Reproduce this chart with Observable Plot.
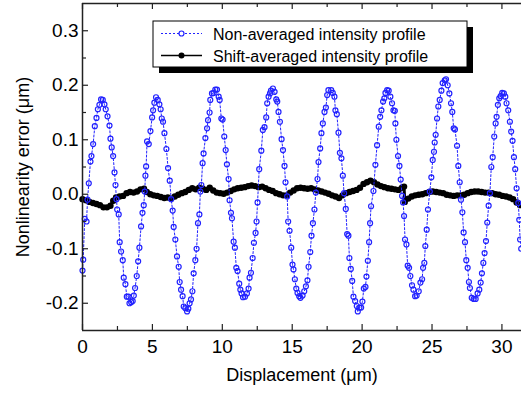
<!DOCTYPE html>
<html><head><meta charset="utf-8">
<script src="https://cdn.jsdelivr.net/npm/d3@7"></script>
<script src="https://cdn.jsdelivr.net/npm/@observablehq/plot@0.6"></script>
<style>
html,body{margin:0;padding:0;background:#fff;}
#chart svg{display:block;}
</style></head><body><div id="chart"></div>
<script>
// Non-averaged intensity profile: [displacement µm, error µm]
const blue = [
[0,-0.14],[0.05,-0.12],[0.16,-0.045],[0.29,-0.05],[0.36,-0.01],[0.45,0.02],[0.57,0.06],[0.64,0.07],[0.76,0.092],[0.88,0.125],[1.0,0.14],[1.1,0.156],[1.21,0.164],[1.33,0.174],[1.45,0.173],[1.57,0.165],[1.66,0.156],[1.79,0.143],[1.93,0.126],[2.0,0.102],[2.09,0.086],[2.19,0.07],[2.29,0.04],[2.36,0.017],[2.43,-0.009],[2.48,-0.028],[2.59,-0.037],[2.66,-0.088],[2.76,-0.105],[2.88,-0.121],[2.95,-0.153],[3.07,-0.165],[3.17,-0.188],[3.29,-0.188],[3.36,-0.2],[3.48,-0.198],[3.59,-0.196],[3.67,-0.186],[3.76,-0.172],[3.88,-0.15],[3.98,-0.123],[4.07,-0.098],[4.19,-0.059],[4.29,-0.034],[4.38,-0.02],[4.45,0.005],[4.5,0.034],[4.55,0.051],
[4.62,0.097],[4.74,0.092],[4.86,0.116],[4.98,0.141],[5.05,0.154],[5.14,0.168],[5.26,0.178],[5.38,0.173],[5.5,0.165],[5.59,0.156],[5.67,0.139],[5.76,0.133],[5.86,0.112],[6.0,0.083],[6.12,0.048],[6.24,0.025],[6.34,-0.009],[6.45,-0.03],[6.52,-0.06],[6.64,-0.083],[6.76,-0.114],[6.88,-0.133],[6.95,-0.161],[7.05,-0.175],[7.16,-0.187],[7.24,-0.206],[7.36,-0.209],[7.48,-0.215],[7.57,-0.21],[7.66,-0.2],[7.76,-0.193],[7.86,-0.178],[7.95,-0.145],[8.07,-0.121],[8.16,-0.1],[8.26,-0.053],[8.36,-0.037],[8.43,0.005],
[8.5,0.017],[8.59,0.057],[8.66,0.075],[8.79,0.103],[8.91,0.121],[8.98,0.136],[9.09,0.15],[9.14,0.173],[9.26,0.185],[9.38,0.186],[9.5,0.192],[9.62,0.192],[9.74,0.179],[9.81,0.173],[9.93,0.139],[10.02,0.137],[10.14,0.106],[10.24,0.081],[10.33,0.055],[10.45,0.028],[10.52,-0.011],[10.62,-0.034],[10.69,-0.044],[10.81,-0.087],[10.9,-0.098],[11.0,-0.135],[11.09,-0.141],[11.21,-0.164],[11.29,-0.175],[11.38,-0.182],[11.48,-0.189],[11.62,-0.188],[11.76,-0.182],[11.88,-0.173],[11.95,-0.153],[12.05,-0.144],[12.17,-0.117],[12.26,-0.089],[12.38,-0.071],[12.45,-0.05],[12.52,-0.015],
[12.64,0.046],[12.79,0.08],[12.9,0.118],[13.02,0.123],[13.14,0.141],[13.21,0.167],[13.31,0.179],[13.41,0.185],[13.48,0.19],[13.62,0.194],[13.74,0.188],[13.86,0.174],[13.93,0.17],[14.02,0.151],[14.12,0.133],[14.24,0.101],[14.34,0.081],[14.45,0.052],[14.52,0.022],[14.64,-0.004],[14.71,-0.05],[14.81,-0.067],[14.93,-0.098],[15.02,-0.129],[15.09,-0.138],[15.19,-0.156],[15.29,-0.173],[15.38,-0.181],[15.5,-0.187],[15.59,-0.19],[15.74,-0.186],[15.86,-0.178],[15.98,-0.169],[16.09,-0.158],[16.17,-0.133],[16.29,-0.106],[16.38,-0.076],[16.48,-0.053],[16.59,-0.028],[16.69,0.003],
[16.81,0.028],[16.88,0.059],[17.0,0.084],[17.09,0.112],[17.19,0.13],[17.31,0.151],[17.41,0.159],[17.5,0.182],[17.59,0.191],[17.79,0.191],[17.9,0.186],[18.02,0.179],[18.09,0.154],[18.19,0.147],[18.31,0.113],[18.41,0.076],[18.52,0.066],[18.62,0.034],[18.71,0.002],[18.83,-0.027],[18.93,-0.073],[19.02,-0.076],[19.09,-0.117],[19.19,-0.137],[19.29,-0.159],[19.38,-0.188],[19.5,-0.196],[19.62,-0.205],[19.69,-0.215],[19.81,-0.208],[19.93,-0.208],[20.02,-0.197],[20.12,-0.173],[20.24,-0.17],[20.31,-0.151],[20.41,-0.122],[20.5,-0.088],[20.57,-0.053],[20.64,-0.022],[20.81,0.006],
[20.95,0.054],[21.07,0.09],[21.19,0.124],[21.29,0.142],[21.38,0.154],[21.5,0.17],[21.59,0.176],[21.67,0.186],[21.79,0.191],[21.9,0.19],[22.02,0.179],[22.14,0.167],[22.24,0.154],[22.34,0.153],[22.38,0.13],[22.45,0.1],[22.57,0.07],[22.67,0.052],[22.76,0.027],[22.86,-0.003],[22.93,-0.015],[23.0,-0.04],[23.07,-0.083],[23.17,-0.092],[23.26,-0.131],[23.36,-0.135],[23.45,-0.15],[23.57,-0.167],[23.67,-0.175],[23.79,-0.187],[23.9,-0.186],[24.05,-0.178],[24.17,-0.162],[24.29,-0.156],[24.36,-0.135],[24.45,-0.126],[24.52,-0.095],[24.62,-0.065],[24.71,-0.028],[24.84,0.005],
[24.95,0.031],[25.05,0.063],[25.14,0.078],[25.19,0.095],[25.26,0.109],[25.36,0.139],[25.45,0.161],[25.55,0.173],[25.67,0.19],[25.76,0.204],[25.91,0.209],[26.0,0.211],[26.12,0.2],[26.24,0.185],[26.36,0.167],[26.45,0.151],[26.55,0.121],[26.64,0.119],[26.79,0.089],[26.88,0.052],[26.98,0.022],[27.07,-0.01],[27.17,-0.033],[27.26,-0.07],[27.36,-0.088],[27.45,-0.121],[27.55,-0.135],[27.64,-0.161],[27.71,-0.172],[27.84,-0.19],[27.98,-0.192],[28.12,-0.192],[28.26,-0.182],[28.38,-0.175],[28.48,-0.162],[28.57,-0.145],[28.67,-0.126],[28.76,-0.108],[28.86,-0.086],[28.95,-0.052],[29.05,-0.021],[29.14,0.002],
[29.24,0.05],[29.34,0.068],[29.45,0.106],[29.55,0.13],[29.62,0.142],[29.71,0.164],[29.81,0.176],[29.91,0.18],[30.02,0.186],[30.14,0.185],[30.24,0.179],[30.33,0.167],[30.45,0.154],[30.57,0.133],[30.66,0.115],[30.76,0.098],[30.86,0.068],[30.95,0.046],[31.05,0.011],[31.17,-0.016],[31.24,-0.047],[31.3,-0.083],[31.38,-0.1]
];
// Shift-averaged intensity profile: [displacement µm, error µm]
const black = [
[0,-0.009],[0.25,-0.011],[0.5,-0.014],[0.75,-0.016],[1.0,-0.018],[1.25,-0.02],[1.5,-0.024],[1.75,-0.024],[2.0,-0.021],[2.2,-0.012],[2.4,-0.006],[2.65,-0.004],[2.9,-0.003],[3.15,0.002],[3.4,0.004],[3.65,0.003],[3.9,0.005],[4.15,0.009],[4.4,0.01],[4.6,0.004],[4.85,0.0],[5.1,-0.002],[5.35,-0.003],[5.6,-0.005],[5.85,-0.007],[6.1,-0.006],[6.35,-0.008],[6.6,-0.004],[6.85,-0.001],[7.1,0.002],[7.35,0.004],[7.6,0.008],[7.85,0.011],[8.1,0.009],[8.35,0.012],[8.6,0.01],[8.85,0.008],[9.1,0.012],[9.35,0.007],[9.6,0.003],[9.85,0.002],[10.1,0.001],[10.35,0.003],[10.6,0.006],[10.85,0.009],[11.1,0.011],[11.35,0.012],[11.6,0.013],[11.85,0.015],[12.1,0.016],[12.35,0.015],[12.6,0.013],[12.85,0.014],[13.1,0.011],[13.35,0.008],[13.6,0.006],[13.85,0.002],[14.1,0.0],[14.35,-0.002],[14.6,-0.002],[14.85,0.003],[15.1,0.007],[15.35,0.011],[15.6,0.012],[15.85,0.011],[16.1,0.01],[16.35,0.011],[16.6,0.009],[16.85,0.007],[17.1,0.005],[17.35,0.003],[17.6,0.001],[17.85,-0.002],[18.1,-0.004],[18.35,-0.007],[18.6,-0.002],[18.85,0.002],[19.1,0.004],[19.35,0.006],[19.6,0.008],[19.85,0.012],[20.1,0.019],[20.35,0.022],[20.6,0.025],[20.85,0.022],[21.1,0.018],[21.35,0.015],[21.6,0.013],[21.85,0.011],[22.1,0.01],[22.35,0.009],[22.6,0.008],[22.85,0.012],[23.0,0.014],[23.05,-0.014],[23.3,-0.008],[23.55,-0.004],[23.8,-0.002],[24.05,-0.001],[24.3,0.0],[24.55,0.002],[24.8,0.004],[25.05,0.005],[25.3,0.004],[25.55,0.003],[25.8,0.002],[26.05,-0.001],[26.3,-0.002],[26.55,-0.003],[26.8,-0.002],[27.05,-0.002],[27.3,-0.001],[27.55,0.002],[27.8,0.004],[28.05,0.005],[28.3,0.005],[28.55,0.004],[28.8,0.003],[29.05,0.003],[29.3,0.002],[29.55,0.0],[29.8,-0.001],[30.05,-0.003],[30.3,-0.004],[30.55,-0.006],[30.8,-0.009],[31.05,-0.015],[31.3,-0.02]
];
const xTicks = [0,5,10,15,20,25,30];
const xTickLabels = ["0","5","10","15","20","25","30"];
const xMinorTicks = [2.5,7.5,12.5,17.5,22.5,27.5];
const yTicks = [-0.2,-0.1,0,0.1,0.2,0.3];
const yTickLabels = ["-0.2","-0.1","0.0","0.1","0.2","0.3"];
const yMinorTicks = [-0.15,-0.05,0.05,0.15,0.25];
const seriesNames = ["Non-averaged intensity profile","Shift-averaged intensity profile"];
const xTitle = "Displacement (\u03bcm)";
const yTitle = "Nonlinearity error (\u03bcm)";

const W = 521, H = 394, mL = 82, mR = 0, mT = 3, mB = 64;
const xDom = [0, 31.4], yDom = [-0.25, 0.35];
const pxX = (W - mL - mR) / (xDom[1] - xDom[0]);
const pxY = (H - mT - mB) / (yDom[1] - yDom[0]);
const font = '"Liberation Sans", Arial, Helvetica, sans-serif';
const BLUE = "#2222ff";
const AX = "#222";

const plot = Plot.plot({
  width: W, height: H, marginLeft: mL, marginRight: mR, marginTop: mT, marginBottom: mB,
  x: {domain: xDom, axis: null},
  y: {domain: yDom, axis: null},
  style: {fontFamily: font, background: "#fff", color: "#000"},
  marks: [
    Plot.line(black, {x: d => d[0], y: d => d[1], stroke: "#000", strokeWidth: 3}),
    Plot.dot(black, {x: d => d[0], y: d => d[1], r: 3.2, fill: "#000", stroke: "none"}),
    Plot.line(blue, {x: d => d[0], y: d => d[1], stroke: BLUE, strokeWidth: 1, strokeDasharray: "2,2"}),
    Plot.dot(blue, {x: d => d[0], y: d => d[1], r: 2.5, stroke: BLUE, strokeWidth: 1.2, fill: "none"}),
    // frame
    Plot.ruleX([xDom[0]], {stroke: AX, strokeWidth: 1.5}),
    Plot.ruleY([yDom[0], yDom[1]], {stroke: AX, strokeWidth: 1.5}),
    // inward ticks
    Plot.ruleX(xTicks, {x: d => d, y1: yDom[0], y2: yDom[0] + 6 / pxY, stroke: AX, strokeWidth: 1.2}),
    Plot.ruleX(xMinorTicks, {x: d => d, y1: yDom[0], y2: yDom[0] + 4 / pxY, stroke: AX, strokeWidth: 1.2}),
    Plot.ruleX(xTicks, {x: d => d, y1: yDom[1], y2: yDom[1] - 6 / pxY, stroke: AX, strokeWidth: 1.2}),
    Plot.ruleX(xMinorTicks, {x: d => d, y1: yDom[1], y2: yDom[1] - 4 / pxY, stroke: AX, strokeWidth: 1.2}),
    Plot.ruleY(yTicks, {y: d => d, x1: xDom[0], x2: xDom[0] + 6 / pxX, stroke: AX, strokeWidth: 1.2}),
    Plot.ruleY(yMinorTicks, {y: d => d, x1: xDom[0], x2: xDom[0] + 4 / pxX, stroke: AX, strokeWidth: 1.2}),
    // tick labels
    Plot.text(xTicks, {x: d => d, y: yDom[0], dy: 16, text: (d, i) => xTickLabels[i], fontSize: 19, fill: "#000"}),
    Plot.text(yTicks, {x: xDom[0], y: d => d, dx: -4, textAnchor: "end", text: (d, i) => yTickLabels[i], fontSize: 19, fill: "#000"}),
    // titles
    Plot.text([xTitle], {frameAnchor: "bottom", dy: 50, textAnchor: "middle", fontSize: 18, fill: "#000"}),
    Plot.text([yTitle], {frameAnchor: "left", dx: -59, rotate: -90, textAnchor: "middle", fontSize: 18, fill: "#000"})
  ]
});

// legend
const svg = d3.select(plot);
const lg = svg.append("g").attr("font-family", font).attr("font-size", 16).attr("text-anchor", "start");
const bx = 153, by = 21, bw = 314, bh = 46, sh = 6;
lg.append("rect").attr("x", bx + sh).attr("y", by + sh).attr("width", bw).attr("height", bh).attr("fill", "#000");
lg.append("rect").attr("x", bx).attr("y", by).attr("width", bw).attr("height", bh).attr("fill", "#fff").attr("stroke", "#000").attr("stroke-width", 1);
const rows = [
  {y: 33.5, color: BLUE, dash: "2,2", fill: "#fff", r: 2.5},
  {y: 55.5, color: "#000", dash: null, fill: "#000", r: 3}
];
rows.forEach((rw, i) => {
  lg.append("line").attr("x1", 161).attr("x2", 202).attr("y1", rw.y).attr("y2", rw.y)
    .attr("stroke", rw.color).attr("stroke-width", i ? 1.5 : 1).attr("stroke-dasharray", rw.dash);
  lg.append("circle").attr("cx", 181.5).attr("cy", rw.y).attr("r", rw.r)
    .attr("fill", rw.fill).attr("stroke", rw.color).attr("stroke-width", i ? 0 : 1.2);
  lg.append("text").attr("x", 213).attr("y", rw.y + 6).attr("fill", "#000").attr("text-anchor", "start").text(seriesNames[i]);
});

document.getElementById("chart").appendChild(plot);
</script>
</body></html>
